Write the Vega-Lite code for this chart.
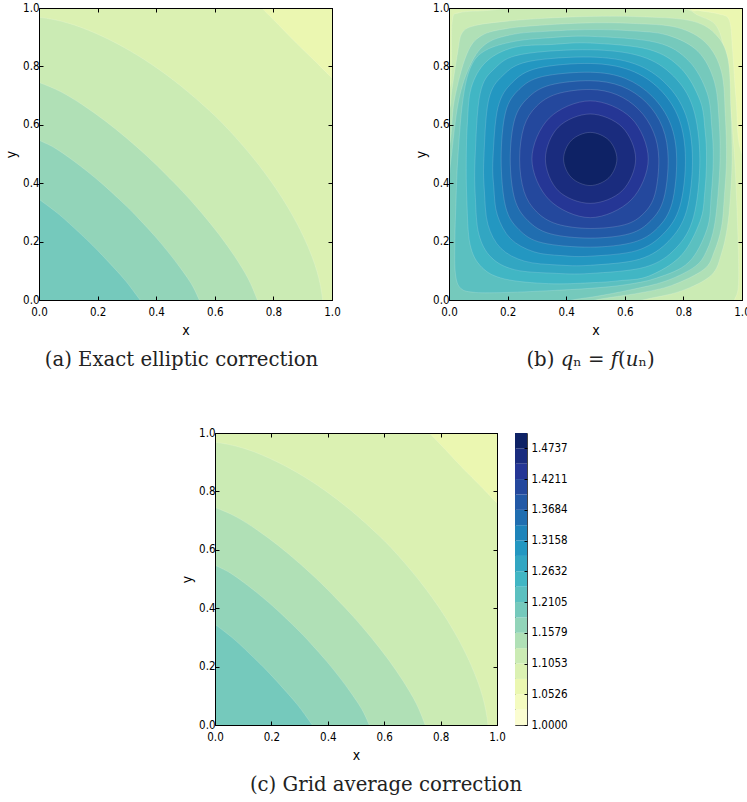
{"$schema":"https://vega.github.io/schema/vega-lite/v6.json","padding":{"left":4,"top":1,"right":0,"bottom":0},"background":"white","config":{"view":{"stroke":"#000","strokeWidth":1},"range":{"ordinal":["#fbfdd1","#f4fbc0","#ebf7b1","#dbf1b2","#cbebb4","#b0e0b6","#92d4b9","#75c9bc","#5bc0c0","#41b6c4","#32a6c2","#2397c1","#1e84ba","#206eb0","#2259a6","#24489d","#253695","#1a2c7e","#0e2265"]},"axisX":{"labelPadding":10,"titlePadding":6},"axis":{"grid":false,"domainColor":"#000","tickColor":"#000","tickSize":-4,"tickWidth":1,"labelColor":"#000","titleColor":"#000","labelFont":"DejaVu Sans Condensed","labelFontSize":11.5,"titleFont":"DejaVu Sans Condensed","titleFontSize":14,"titleFontWeight":"normal","labelPadding":4,"labelFlush":false},"title":{"font":"DejaVu Serif","fontSize":19.7,"fontWeight":"normal","color":"#222"}},"datasets":{"a":[{"b":2,"i":0,"x":-0.2,"y":-0.2},{"b":2,"i":1,"x":-0.2,"y":1.2},{"b":2,"i":2,"x":1.2,"y":1.2},{"b":2,"i":3,"x":1.2,"y":-0.2},{"b":3,"i":0,"x":-0.2,"y":-0.2},{"b":3,"i":1,"x":-0.2,"y":1.2},{"b":3,"i":2,"x":0.64,"y":1.12},{"b":3,"i":3,"x":0.76,"y":1},{"b":3,"i":4,"x":0.818,"y":0.942},{"b":3,"i":5,"x":0.878,"y":0.88},{"b":3,"i":6,"x":0.942,"y":0.818},{"b":3,"i":7,"x":1,"y":0.76},{"b":3,"i":8,"x":1.12,"y":0.64},{"b":3,"i":9,"x":1.2,"y":-0.2},{"b":4,"i":0,"x":-0.2,"y":-0.2},{"b":4,"i":1,"x":-0.1,"y":0.97},{"b":4,"i":2,"x":0,"y":0.968},{"b":4,"i":3,"x":0.097,"y":0.949},{"b":4,"i":4,"x":0.194,"y":0.913},{"b":4,"i":5,"x":0.29,"y":0.865},{"b":4,"i":6,"x":0.387,"y":0.805},{"b":4,"i":7,"x":0.484,"y":0.733},{"b":4,"i":8,"x":0.581,"y":0.649},{"b":4,"i":9,"x":0.649,"y":0.581},{"b":4,"i":10,"x":0.733,"y":0.484},{"b":4,"i":11,"x":0.805,"y":0.387},{"b":4,"i":12,"x":0.865,"y":0.29},{"b":4,"i":13,"x":0.913,"y":0.194},{"b":4,"i":14,"x":0.949,"y":0.097},{"b":4,"i":15,"x":0.968,"y":0},{"b":4,"i":16,"x":0.97,"y":-0.1},{"b":5,"i":0,"x":-0.2,"y":-0.2},{"b":5,"i":1,"x":-0.1,"y":0.78},{"b":5,"i":2,"x":0,"y":0.745},{"b":5,"i":3,"x":0.0745,"y":0.713},{"b":5,"i":4,"x":0.149,"y":0.668},{"b":5,"i":5,"x":0.2235,"y":0.615},{"b":5,"i":6,"x":0.298,"y":0.555},{"b":5,"i":7,"x":0.3725,"y":0.489},{"b":5,"i":8,"x":0.432,"y":0.431},{"b":5,"i":9,"x":0.489,"y":0.3725},{"b":5,"i":10,"x":0.555,"y":0.298},{"b":5,"i":11,"x":0.615,"y":0.2235},{"b":5,"i":12,"x":0.668,"y":0.149},{"b":5,"i":13,"x":0.713,"y":0.0745},{"b":5,"i":14,"x":0.745,"y":0},{"b":5,"i":15,"x":0.78,"y":-0.1},{"b":6,"i":0,"x":-0.2,"y":-0.2},{"b":6,"i":1,"x":-0.1,"y":0.59},{"b":6,"i":2,"x":0,"y":0.547},{"b":6,"i":3,"x":0.055,"y":0.52},{"b":6,"i":4,"x":0.109,"y":0.483},{"b":6,"i":5,"x":0.164,"y":0.441},{"b":6,"i":6,"x":0.219,"y":0.395},{"b":6,"i":7,"x":0.2735,"y":0.345},{"b":6,"i":8,"x":0.312,"y":0.308},{"b":6,"i":9,"x":0.345,"y":0.2735},{"b":6,"i":10,"x":0.395,"y":0.219},{"b":6,"i":11,"x":0.441,"y":0.164},{"b":6,"i":12,"x":0.483,"y":0.109},{"b":6,"i":13,"x":0.52,"y":0.055},{"b":6,"i":14,"x":0.547,"y":0},{"b":6,"i":15,"x":0.59,"y":-0.1},{"b":7,"i":0,"x":-0.2,"y":-0.2},{"b":7,"i":1,"x":-0.1,"y":0.42},{"b":7,"i":2,"x":0,"y":0.345},{"b":7,"i":3,"x":0.069,"y":0.2925},{"b":7,"i":4,"x":0.138,"y":0.23},{"b":7,"i":5,"x":0.183,"y":0.187},{"b":7,"i":6,"x":0.23,"y":0.138},{"b":7,"i":7,"x":0.2925,"y":0.069},{"b":7,"i":8,"x":0.345,"y":0},{"b":7,"i":9,"x":0.42,"y":-0.1}],"bp":[{"b":2,"i":0,"x":-0.2,"y":-0.2},{"b":2,"i":1,"x":-0.2,"y":1.2},{"b":2,"i":2,"x":1.2,"y":1.2},{"b":2,"i":3,"x":1.2,"y":-0.2},{"b":3,"i":0,"x":-0.1,"y":-0.1},{"b":3,"i":1,"x":-0.1,"y":1.1},{"b":3,"i":2,"x":0.75,"y":1.1},{"b":3,"i":3,"x":0.82,"y":1},{"b":3,"i":4,"x":0.855,"y":0.991},{"b":3,"i":5,"x":0.923,"y":0.979},{"b":3,"i":6,"x":0.957,"y":0.957},{"b":3,"i":7,"x":0.968,"y":0.853},{"b":3,"i":8,"x":0.98,"y":0.683},{"b":3,"i":9,"x":1,"y":0.5},{"b":3,"i":10,"x":1.1,"y":0.4},{"b":3,"i":11,"x":1.1,"y":-0.1},{"b":4,"i":0,"x":-0.05,"y":0.65},{"b":4,"i":1,"x":0,"y":0.72},{"b":4,"i":2,"x":0.0085,"y":0.796},{"b":4,"i":3,"x":0.011,"y":0.955},{"b":4,"i":4,"x":0.036,"y":0.984},{"b":4,"i":5,"x":0.138,"y":0.992},{"b":4,"i":6,"x":0.25,"y":1.005},{"b":4,"i":7,"x":0.5,"y":1.02},{"b":4,"i":8,"x":0.78,"y":1},{"b":4,"i":9,"x":0.85,"y":0.975},{"b":4,"i":10,"x":0.915,"y":0.935},{"b":4,"i":11,"x":0.945,"y":0.82},{"b":4,"i":12,"x":0.962,"y":0.65},{"b":4,"i":13,"x":0.975,"y":0.48},{"b":4,"i":14,"x":0.985,"y":0.25},{"b":4,"i":15,"x":0.988,"y":0.057},{"b":4,"i":16,"x":0.974,"y":0},{"b":4,"i":17,"x":0.95,"y":-0.05},{"b":4,"i":18,"x":-0.05,"y":-0.05},{"b":5,"i":0,"x":0.482,"y":0.971},{"b":5,"i":1,"x":0.65,"y":0.97},{"b":5,"i":2,"x":0.822,"y":0.957},{"b":5,"i":3,"x":0.908,"y":0.912},{"b":5,"i":4,"x":0.952,"y":0.826},{"b":5,"i":5,"x":0.962,"y":0.65},{"b":5,"i":6,"x":0.966,"y":0.483},{"b":5,"i":7,"x":0.96,"y":0.35},{"b":5,"i":8,"x":0.95,"y":0.25},{"b":5,"i":9,"x":0.93,"y":0.16},{"b":5,"i":10,"x":0.895,"y":0.085},{"b":5,"i":11,"x":0.79,"y":0.03},{"b":5,"i":12,"x":0.66,"y":0},{"b":5,"i":13,"x":0.55,"y":-0.03},{"b":5,"i":14,"x":-0.05,"y":-0.05},{"b":5,"i":15,"x":-0.05,"y":0.58},{"b":5,"i":16,"x":0,"y":0.65},{"b":5,"i":17,"x":0.01,"y":0.72},{"b":5,"i":18,"x":0.03,"y":0.85},{"b":5,"i":19,"x":0.045,"y":0.915},{"b":5,"i":20,"x":0.09,"y":0.94},{"b":5,"i":21,"x":0.2,"y":0.955},{"b":5,"i":22,"x":0.33,"y":0.965},{"b":6,"i":0,"x":0.482,"y":0.949},{"b":6,"i":1,"x":0.63,"y":0.947},{"b":6,"i":2,"x":0.779,"y":0.933},{"b":6,"i":3,"x":0.877,"y":0.88},{"b":6,"i":4,"x":0.93,"y":0.781},{"b":6,"i":5,"x":0.943,"y":0.63},{"b":6,"i":6,"x":0.947,"y":0.483},{"b":6,"i":7,"x":0.94,"y":0.36},{"b":6,"i":8,"x":0.93,"y":0.25},{"b":6,"i":9,"x":0.905,"y":0.165},{"b":6,"i":10,"x":0.87,"y":0.105},{"b":6,"i":11,"x":0.76,"y":0.05},{"b":6,"i":12,"x":0.65,"y":0.024},{"b":6,"i":13,"x":0.5,"y":0},{"b":6,"i":14,"x":0.4,"y":-0.03},{"b":6,"i":15,"x":-0.05,"y":-0.05},{"b":6,"i":16,"x":-0.05,"y":0.45},{"b":6,"i":17,"x":0,"y":0.52},{"b":6,"i":18,"x":0.018,"y":0.683},{"b":6,"i":19,"x":0.06,"y":0.84},{"b":6,"i":20,"x":0.11,"y":0.905},{"b":6,"i":21,"x":0.2,"y":0.93},{"b":6,"i":22,"x":0.33,"y":0.942},{"b":7,"i":0,"x":0.482,"y":0.926},{"b":7,"i":1,"x":0.62,"y":0.922},{"b":7,"i":2,"x":0.746,"y":0.907},{"b":7,"i":3,"x":0.85,"y":0.851},{"b":7,"i":4,"x":0.906,"y":0.747},{"b":7,"i":5,"x":0.922,"y":0.61},{"b":7,"i":6,"x":0.925,"y":0.483},{"b":7,"i":7,"x":0.918,"y":0.36},{"b":7,"i":8,"x":0.905,"y":0.25},{"b":7,"i":9,"x":0.88,"y":0.17},{"b":7,"i":10,"x":0.84,"y":0.115},{"b":7,"i":11,"x":0.74,"y":0.065},{"b":7,"i":12,"x":0.62,"y":0.035},{"b":7,"i":13,"x":0.5,"y":0.012},{"b":7,"i":14,"x":0.42,"y":0},{"b":7,"i":15,"x":0.35,"y":-0.02},{"b":7,"i":16,"x":-0.05,"y":-0.05},{"b":7,"i":17,"x":-0.02,"y":0.35},{"b":7,"i":18,"x":0,"y":0.42},{"b":7,"i":19,"x":0.007,"y":0.483},{"b":7,"i":20,"x":0.033,"y":0.683},{"b":7,"i":21,"x":0.075,"y":0.81},{"b":7,"i":22,"x":0.13,"y":0.88},{"b":7,"i":23,"x":0.22,"y":0.91},{"b":7,"i":24,"x":0.33,"y":0.92},{"b":8,"i":0,"x":0.482,"y":0.903},{"b":8,"i":1,"x":0.708,"y":0.882},{"b":8,"i":2,"x":0.818,"y":0.819},{"b":8,"i":3,"x":0.881,"y":0.709},{"b":8,"i":4,"x":0.897,"y":0.59},{"b":8,"i":5,"x":0.902,"y":0.483},{"b":8,"i":6,"x":0.895,"y":0.36},{"b":8,"i":7,"x":0.881,"y":0.244},{"b":8,"i":8,"x":0.818,"y":0.129},{"b":8,"i":9,"x":0.708,"y":0.075},{"b":8,"i":10,"x":0.6,"y":0.052},{"b":8,"i":11,"x":0.482,"y":0.04},{"b":8,"i":12,"x":0.343,"y":0.032},{"b":8,"i":13,"x":0.2,"y":0.026},{"b":8,"i":14,"x":0.09,"y":0.026},{"b":8,"i":15,"x":0.04,"y":0.04},{"b":8,"i":16,"x":0.022,"y":0.09},{"b":8,"i":17,"x":0.02,"y":0.2},{"b":8,"i":18,"x":0.024,"y":0.341},{"b":8,"i":19,"x":0.03,"y":0.483},{"b":8,"i":20,"x":0.047,"y":0.683},{"b":8,"i":21,"x":0.075,"y":0.8},{"b":8,"i":22,"x":0.125,"y":0.855},{"b":8,"i":23,"x":0.22,"y":0.885},{"b":8,"i":24,"x":0.33,"y":0.897},{"b":9,"i":0,"x":0.482,"y":0.88},{"b":9,"i":1,"x":0.682,"y":0.858},{"b":9,"i":2,"x":0.792,"y":0.793},{"b":9,"i":3,"x":0.857,"y":0.683},{"b":9,"i":4,"x":0.874,"y":0.58},{"b":9,"i":5,"x":0.879,"y":0.483},{"b":9,"i":6,"x":0.873,"y":0.37},{"b":9,"i":7,"x":0.857,"y":0.27},{"b":9,"i":8,"x":0.792,"y":0.152},{"b":9,"i":9,"x":0.682,"y":0.082},{"b":9,"i":10,"x":0.58,"y":0.066},{"b":9,"i":11,"x":0.482,"y":0.059},{"b":9,"i":12,"x":0.34,"y":0.056},{"b":9,"i":13,"x":0.19,"y":0.072},{"b":9,"i":14,"x":0.112,"y":0.112},{"b":9,"i":15,"x":0.072,"y":0.19},{"b":9,"i":16,"x":0.061,"y":0.34},{"b":9,"i":17,"x":0.059,"y":0.483},{"b":9,"i":18,"x":0.063,"y":0.61},{"b":9,"i":19,"x":0.076,"y":0.728},{"b":9,"i":20,"x":0.127,"y":0.816},{"b":9,"i":21,"x":0.221,"y":0.865},{"b":9,"i":22,"x":0.35,"y":0.875},{"b":10,"i":0,"x":0.482,"y":0.857},{"b":10,"i":1,"x":0.657,"y":0.834},{"b":10,"i":2,"x":0.766,"y":0.767},{"b":10,"i":3,"x":0.833,"y":0.658},{"b":10,"i":4,"x":0.856,"y":0.483},{"b":10,"i":5,"x":0.835,"y":0.286},{"b":10,"i":6,"x":0.774,"y":0.177},{"b":10,"i":7,"x":0.67,"y":0.113},{"b":10,"i":8,"x":0.482,"y":0.091},{"b":10,"i":9,"x":0.35,"y":0.092},{"b":10,"i":10,"x":0.223,"y":0.104},{"b":10,"i":11,"x":0.144,"y":0.146},{"b":10,"i":12,"x":0.102,"y":0.225},{"b":10,"i":13,"x":0.09,"y":0.35},{"b":10,"i":14,"x":0.089,"y":0.483},{"b":10,"i":15,"x":0.106,"y":0.706},{"b":10,"i":16,"x":0.156,"y":0.793},{"b":10,"i":17,"x":0.247,"y":0.841},{"b":11,"i":0,"x":0.482,"y":0.832},{"b":11,"i":1,"x":0.633,"y":0.809},{"b":11,"i":2,"x":0.74,"y":0.741},{"b":11,"i":3,"x":0.808,"y":0.634},{"b":11,"i":4,"x":0.831,"y":0.483},{"b":11,"i":5,"x":0.811,"y":0.306},{"b":11,"i":6,"x":0.751,"y":0.203},{"b":11,"i":7,"x":0.651,"y":0.14},{"b":11,"i":8,"x":0.482,"y":0.119},{"b":11,"i":9,"x":0.37,"y":0.12},{"b":11,"i":10,"x":0.258,"y":0.133},{"b":11,"i":11,"x":0.177,"y":0.177},{"b":11,"i":12,"x":0.133,"y":0.258},{"b":11,"i":13,"x":0.121,"y":0.37},{"b":11,"i":14,"x":0.119,"y":0.483},{"b":11,"i":15,"x":0.135,"y":0.684},{"b":11,"i":16,"x":0.184,"y":0.769},{"b":11,"i":17,"x":0.273,"y":0.817},{"b":12,"i":0,"x":0.482,"y":0.81},{"b":12,"i":1,"x":0.618,"y":0.787},{"b":12,"i":2,"x":0.719,"y":0.722},{"b":12,"i":3,"x":0.785,"y":0.62},{"b":12,"i":4,"x":0.807,"y":0.483},{"b":12,"i":5,"x":0.788,"y":0.321},{"b":12,"i":6,"x":0.732,"y":0.227},{"b":12,"i":7,"x":0.64,"y":0.169},{"b":12,"i":8,"x":0.482,"y":0.15},{"b":12,"i":9,"x":0.385,"y":0.152},{"b":12,"i":10,"x":0.29,"y":0.165},{"b":12,"i":11,"x":0.21,"y":0.21},{"b":12,"i":12,"x":0.165,"y":0.291},{"b":12,"i":13,"x":0.153,"y":0.385},{"b":12,"i":14,"x":0.15,"y":0.483},{"b":12,"i":15,"x":0.167,"y":0.659},{"b":12,"i":16,"x":0.216,"y":0.745},{"b":12,"i":17,"x":0.303,"y":0.794},{"b":13,"i":0,"x":0.482,"y":0.78},{"b":13,"i":1,"x":0.601,"y":0.759},{"b":13,"i":2,"x":0.694,"y":0.697},{"b":13,"i":3,"x":0.756,"y":0.603},{"b":13,"i":4,"x":0.777,"y":0.483},{"b":13,"i":5,"x":0.761,"y":0.331},{"b":13,"i":6,"x":0.712,"y":0.247},{"b":13,"i":7,"x":0.63,"y":0.198},{"b":13,"i":8,"x":0.482,"y":0.181},{"b":13,"i":9,"x":0.318,"y":0.196},{"b":13,"i":10,"x":0.239,"y":0.241},{"b":13,"i":11,"x":0.193,"y":0.32},{"b":13,"i":12,"x":0.178,"y":0.483},{"b":13,"i":13,"x":0.193,"y":0.643},{"b":13,"i":14,"x":0.239,"y":0.721},{"b":13,"i":15,"x":0.318,"y":0.765},{"b":14,"i":0,"x":0.482,"y":0.751},{"b":14,"i":1,"x":0.589,"y":0.732},{"b":14,"i":2,"x":0.674,"y":0.676},{"b":14,"i":3,"x":0.729,"y":0.591},{"b":14,"i":4,"x":0.748,"y":0.483},{"b":14,"i":5,"x":0.733,"y":0.347},{"b":14,"i":6,"x":0.689,"y":0.272},{"b":14,"i":7,"x":0.616,"y":0.227},{"b":14,"i":8,"x":0.482,"y":0.212},{"b":14,"i":9,"x":0.345,"y":0.227},{"b":14,"i":10,"x":0.269,"y":0.272},{"b":14,"i":11,"x":0.224,"y":0.347},{"b":14,"i":12,"x":0.209,"y":0.483},{"b":14,"i":13,"x":0.224,"y":0.618},{"b":14,"i":14,"x":0.269,"y":0.692},{"b":14,"i":15,"x":0.345,"y":0.736},{"b":15,"i":0,"x":0.482,"y":0.721},{"b":15,"i":1,"x":0.573,"y":0.703},{"b":15,"i":2,"x":0.648,"y":0.652},{"b":15,"i":3,"x":0.698,"y":0.575},{"b":15,"i":4,"x":0.716,"y":0.483},{"b":15,"i":5,"x":0.703,"y":0.363},{"b":15,"i":6,"x":0.665,"y":0.297},{"b":15,"i":7,"x":0.6,"y":0.258},{"b":15,"i":8,"x":0.482,"y":0.245},{"b":15,"i":9,"x":0.369,"y":0.26},{"b":15,"i":10,"x":0.299,"y":0.302},{"b":15,"i":11,"x":0.256,"y":0.372},{"b":15,"i":12,"x":0.241,"y":0.483},{"b":15,"i":13,"x":0.256,"y":0.594},{"b":15,"i":14,"x":0.299,"y":0.664},{"b":15,"i":15,"x":0.369,"y":0.706},{"b":16,"i":0,"x":0.482,"y":0.682},{"b":16,"i":1,"x":0.622,"y":0.623},{"b":16,"i":2,"x":0.68,"y":0.483},{"b":16,"i":3,"x":0.622,"y":0.343},{"b":16,"i":4,"x":0.482,"y":0.282},{"b":16,"i":5,"x":0.342,"y":0.343},{"b":16,"i":6,"x":0.283,"y":0.483},{"b":16,"i":7,"x":0.342,"y":0.623},{"b":17,"i":0,"x":0.482,"y":0.637},{"b":17,"i":1,"x":0.591,"y":0.592},{"b":17,"i":2,"x":0.637,"y":0.483},{"b":17,"i":3,"x":0.591,"y":0.374},{"b":17,"i":4,"x":0.482,"y":0.331},{"b":17,"i":5,"x":0.373,"y":0.374},{"b":17,"i":6,"x":0.329,"y":0.483},{"b":17,"i":7,"x":0.373,"y":0.592},{"b":18,"i":0,"x":0.482,"y":0.574},{"b":18,"i":1,"x":0.546,"y":0.547},{"b":18,"i":2,"x":0.573,"y":0.483},{"b":18,"i":3,"x":0.546,"y":0.419},{"b":18,"i":4,"x":0.482,"y":0.392},{"b":18,"i":5,"x":0.418,"y":0.419},{"b":18,"i":6,"x":0.391,"y":0.483},{"b":18,"i":7,"x":0.418,"y":0.547}],"bar":[{"b":0,"lo":1,"hi":1.0263},{"b":1,"lo":1.0263,"hi":1.0526},{"b":2,"lo":1.0526,"hi":1.0789},{"b":3,"lo":1.0789,"hi":1.1053},{"b":4,"lo":1.1053,"hi":1.1316},{"b":5,"lo":1.1316,"hi":1.1579},{"b":6,"lo":1.1579,"hi":1.1842},{"b":7,"lo":1.1842,"hi":1.2105},{"b":8,"lo":1.2105,"hi":1.2368},{"b":9,"lo":1.2368,"hi":1.2632},{"b":10,"lo":1.2632,"hi":1.2895},{"b":11,"lo":1.2895,"hi":1.3158},{"b":12,"lo":1.3158,"hi":1.3421},{"b":13,"lo":1.3421,"hi":1.3684},{"b":14,"lo":1.3684,"hi":1.3947},{"b":15,"lo":1.3947,"hi":1.4211},{"b":16,"lo":1.4211,"hi":1.4474},{"b":17,"lo":1.4474,"hi":1.4737},{"b":18,"lo":1.4737,"hi":1.5}],"sp":[{"v":0}]},"vconcat":[{"hconcat":[{"width":293,"height":292,"data":{"name":"a"},"title":{"text":"(a) Exact elliptic correction","orient":"bottom","offset":12,"dx":-4},"layer":[{"mark":{"type":"line","interpolate":"cardinal-closed","filled":true,"stroke":"#ffffff","strokeOpacity":0.3,"strokeWidth":0.5,"clip":true},"encoding":{"x":{"field":"x","type":"quantitative","scale":{"domain":[0,1],"nice":false},"axis":{"values":[0,0.2,0.4,0.6,0.8,1],"format":".1f","title":"x","zindex":1}},"y":{"field":"y","type":"quantitative","scale":{"domain":[0,1],"nice":false},"axis":{"values":[0,0.2,0.4,0.6,0.8,1],"format":".1f","title":"y","zindex":1}},"order":{"field":"i"},"color":{"field":"b","type":"ordinal","legend":null,"scale":{"domain":[0,1,2,3,4,5,6,7,8,9,10,11,12,13,14,15,16,17,18]}}}},{"mark":{"type":"point","opacity":0,"clip":true},"encoding":{"x":{"field":"x","type":"quantitative","axis":{"orient":"top","values":[0,0.2,0.4,0.6,0.8,1],"labels":false,"title":null,"zindex":1}},"y":{"field":"y","type":"quantitative","axis":{"orient":"right","values":[0,0.2,0.4,0.6,0.8,1],"labels":false,"title":null,"zindex":1}}}}],"resolve":{"axis":{"x":"independent","y":"independent"}}},{"width":293,"height":292,"data":{"name":"bp"},"title":{"text":"(b) 𝑞ₙ  =  𝑓(𝑢ₙ)","orient":"bottom","offset":12,"dx":-5},"layer":[{"mark":{"type":"line","interpolate":"cardinal-closed","filled":true,"stroke":"#ffffff","strokeOpacity":0.3,"strokeWidth":0.5,"clip":true},"encoding":{"x":{"field":"x","type":"quantitative","scale":{"domain":[0,1],"nice":false},"axis":{"values":[0,0.2,0.4,0.6,0.8,1],"format":".1f","title":"x","zindex":1}},"y":{"field":"y","type":"quantitative","scale":{"domain":[0,1],"nice":false},"axis":{"values":[0,0.2,0.4,0.6,0.8,1],"format":".1f","title":"y","zindex":1}},"order":{"field":"i"},"color":{"field":"b","type":"ordinal","legend":null,"scale":{"domain":[0,1,2,3,4,5,6,7,8,9,10,11,12,13,14,15,16,17,18]}}}},{"mark":{"type":"point","opacity":0,"clip":true},"encoding":{"x":{"field":"x","type":"quantitative","axis":{"orient":"top","values":[0,0.2,0.4,0.6,0.8,1],"labels":false,"title":null,"zindex":1}},"y":{"field":"y","type":"quantitative","axis":{"orient":"right","values":[0,0.2,0.4,0.6,0.8,1],"labels":false,"title":null,"zindex":1}}}}],"resolve":{"axis":{"x":"independent","y":"independent"}}}],"spacing":73},{"bounds":"flush","hconcat":[{"width":158,"height":1,"data":{"name":"sp"},"view":{"stroke":null},"mark":{"type":"rule","opacity":0},"encoding":{}},{"width":282,"height":292,"data":{"name":"a"},"title":{"text":"(c) Grid average correction","orient":"bottom","offset":12,"dx":30},"layer":[{"mark":{"type":"line","interpolate":"cardinal-closed","filled":true,"stroke":"#ffffff","strokeOpacity":0.3,"strokeWidth":0.5,"clip":true},"encoding":{"x":{"field":"x","type":"quantitative","scale":{"domain":[0,1],"nice":false},"axis":{"values":[0,0.2,0.4,0.6,0.8,1],"format":".1f","title":"x","zindex":1}},"y":{"field":"y","type":"quantitative","scale":{"domain":[0,1],"nice":false},"axis":{"values":[0,0.2,0.4,0.6,0.8,1],"format":".1f","title":"y","zindex":1}},"order":{"field":"i"},"color":{"field":"b","type":"ordinal","legend":null,"scale":{"domain":[0,1,2,3,4,5,6,7,8,9,10,11,12,13,14,15,16,17,18]}}}},{"mark":{"type":"point","opacity":0,"clip":true},"encoding":{"x":{"field":"x","type":"quantitative","axis":{"orient":"top","values":[0,0.2,0.4,0.6,0.8,1],"labels":false,"title":null,"zindex":1}},"y":{"field":"y","type":"quantitative","axis":{"orient":"right","values":[0,0.2,0.4,0.6,0.8,1],"labels":false,"title":null,"zindex":1}}}}],"resolve":{"axis":{"x":"independent","y":"independent"}}},{"width":12,"height":292,"data":{"name":"bar"},"view":{"stroke":"#444"},"mark":{"type":"rect"},"encoding":{"y":{"field":"lo","type":"quantitative","scale":{"domain":[1,1.5],"nice":false},"axis":{"orient":"right","values":[1,1.0526,1.1053,1.1579,1.2105,1.2632,1.3158,1.3684,1.4211,1.4737],"format":".4f","title":null,"tickSize":-3,"labelPadding":7,"domain":false,"zindex":1}},"y2":{"field":"hi"},"color":{"field":"b","type":"ordinal","legend":null,"scale":{"domain":[0,1,2,3,4,5,6,7,8,9,10,11,12,13,14,15,16,17,18]}}}}],"spacing":18}],"spacing":56}
